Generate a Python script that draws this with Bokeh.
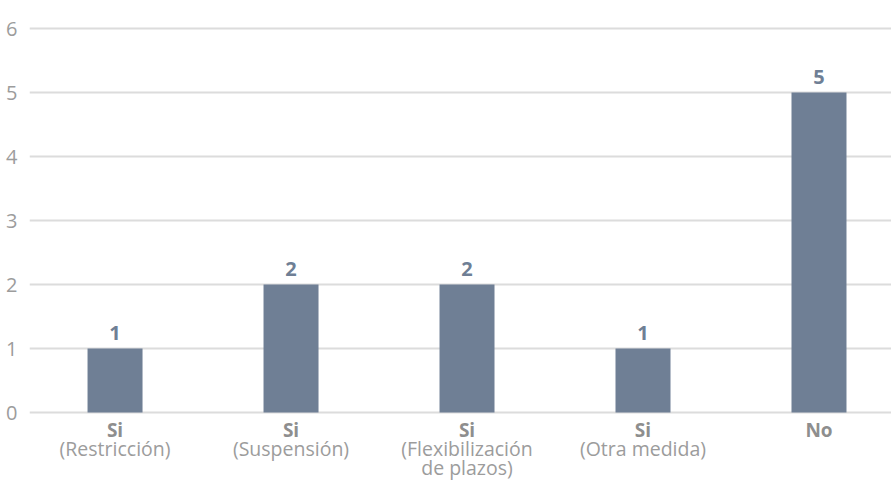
from bokeh.plotting import figure
from bokeh.models import ColumnDataSource, Range1d, FixedTicker
from bokeh.core.properties import value
from bokeh.embed import file_html
from bokeh.resources import INLINE

# Responses per category
heads = ["Si", "Si", "Si", "Si", "No"]
details = ["(Restricción)", "(Suspensión)", "(Flexibilización", "(Otra medida)", ""]
details2 = ["", "", "de plazos)", "", ""]
counts = [1, 2, 2, 1, 5]
y_ticks = [0, 1, 2, 3, 4, 5, 6]

BAR = "#6f7f95"
GRID = "#dcdcdc"
TICK = "#9c9c9c"
FONT = "Open Sans"

xs = list(range(len(counts)))
src = ColumnDataSource(dict(
    x=xs, top=counts, zero=[0] * len(counts),
    lbl=[str(c) for c in counts], head=heads, detail=details, detail2=details2,
))

p = figure(
    width=891, height=480, output_backend="svg", toolbar_location=None,
    x_range=Range1d(-0.486, 4.412), y_range=Range1d(-1.0625, 6.4375),
    x_axis_type=None, min_border_left=29, min_border_right=0,
    min_border_top=0, min_border_bottom=0,
)
p.outline_line_color = None
p.background_fill_color = "white"
p.border_fill_color = "white"

# y axis: bare numbers, no line or ticks
ax = p.yaxis[0]
ax.ticker = FixedTicker(ticks=y_ticks)
ax.axis_line_color = None
ax.major_tick_line_color = None
ax.minor_tick_line_color = None
ax.major_label_text_font = FONT
ax.major_label_text_font_size = "20px"
ax.major_label_text_color = TICK
ax.major_label_standoff = 6

p.xgrid.visible = False
p.ygrid.ticker = FixedTicker(ticks=y_ticks)
p.ygrid.grid_line_color = GRID
p.ygrid.grid_line_width = 2

p.vbar(x="x", top="top", bottom=0, width=0.3125, source=src,
       fill_color=BAR, line_color=None)

# value labels above the bars
p.text(x="x", y="top", text="lbl", source=src, text_align="center",
       text_baseline="middle", y_offset=-16, text_font=value(FONT),
       text_font_style="bold", text_font_size="20px", text_color=BAR)

# category labels below the baseline
p.text(x="x", y="zero", text="head", source=src, text_align="center",
       text_baseline="middle", y_offset=17, text_font=value(FONT),
       text_font_style="bold", text_font_size="19px", text_color="#8e8e8e")
p.text(x="x", y="zero", text="detail", source=src, text_align="center",
       text_baseline="middle", y_offset=36, text_font=value(FONT),
       text_font_size="19.5px", text_color=TICK)
p.text(x="x", y="zero", text="detail2", source=src, text_align="center",
       text_baseline="middle", y_offset=55, text_font=value(FONT),
       text_font_size="19.5px", text_color=TICK)

open("out.html", "w").write(file_html(p, INLINE))
